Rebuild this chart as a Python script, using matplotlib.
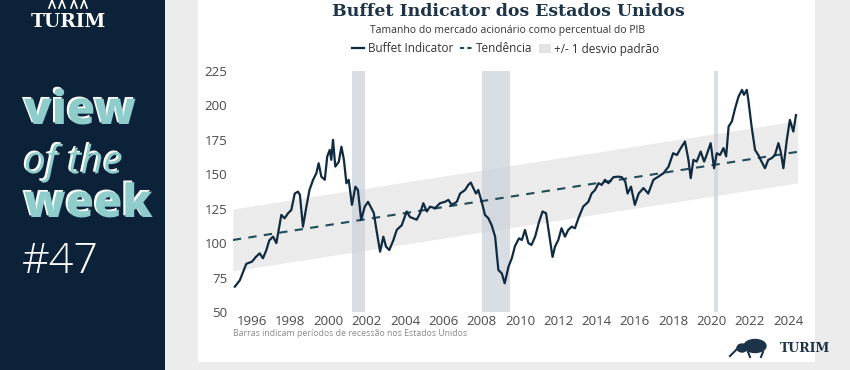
import matplotlib
matplotlib.use("Agg")
import matplotlib.pyplot as plt
import matplotlib.patheffects as pe
from matplotlib.patches import Rectangle, Ellipse
import numpy as np

# ---------------- data ----------------
years = [1995.1, 1995.36, 1995.7, 1996.0, 1996.2, 1996.4, 1996.57, 1996.75, 1996.9, 1997.1,
         1997.27, 1997.53, 1997.7, 1997.88, 1998.05, 1998.23, 1998.4, 1998.5, 1998.66, 1998.84,
         1999.0, 1999.19, 1999.36, 1999.48, 1999.62, 1999.8, 1999.93, 2000.06, 2000.14, 2000.23,
         2000.35, 2000.53, 2000.67, 2000.8, 2000.93, 2001.05, 2001.22, 2001.4, 2001.53, 2001.7,
         2001.89, 2002.06, 2002.23, 2002.36, 2002.5, 2002.69, 2002.86, 2003.0, 2003.17, 2003.38,
         2003.56, 2003.82, 2004.08, 2004.25, 2004.43, 2004.6, 2004.78, 2004.95, 2005.13, 2005.3,
         2005.56, 2005.82, 2006.08, 2006.26, 2006.43, 2006.7, 2006.87, 2007.13, 2007.3, 2007.43,
         2007.56, 2007.7, 2007.82, 2008.0, 2008.17, 2008.35, 2008.52, 2008.7, 2008.87, 2009.05,
         2009.2, 2009.4, 2009.57, 2009.74, 2009.95, 2010.1, 2010.26, 2010.44, 2010.6, 2010.79,
         2011.0, 2011.18, 2011.36, 2011.53, 2011.7, 2011.83, 2012.0, 2012.17, 2012.35, 2012.52,
         2012.7, 2012.87, 2013.05, 2013.3, 2013.57, 2013.74, 2013.92, 2014.1, 2014.27, 2014.44,
         2014.62, 2014.88, 2015.14, 2015.32, 2015.5, 2015.62, 2015.8, 2016.0, 2016.2, 2016.45,
         2016.7, 2016.97, 2017.23, 2017.5, 2017.76, 2018.0, 2018.2, 2018.4, 2018.62, 2018.8,
         2018.92, 2019.06, 2019.23, 2019.44, 2019.62, 2019.75, 2019.96, 2020.14, 2020.28, 2020.45,
         2020.63, 2020.77, 2020.9, 2021.07, 2021.24, 2021.42, 2021.6, 2021.7, 2021.85, 2021.93,
         2022.1, 2022.28, 2022.45, 2022.62, 2022.8, 2022.97, 2023.15, 2023.32, 2023.5, 2023.62,
         2023.76, 2023.94, 2024.1, 2024.28, 2024.42]
buffett = [68.4, 73, 85, 86.6, 90, 92.6, 89, 95, 102, 104.7,
           100, 120.5, 118, 121.7, 124, 136, 137.4, 135, 112, 126.5,
           138.6, 146, 150.8, 158, 148.3, 146, 163, 167.7, 160.5, 175,
           155.6, 159, 170, 160.5, 143.5, 146, 127.8, 141, 138.7, 116.9,
           126.5, 130, 125.4, 122, 109.6, 93.8, 104.7, 97.5, 95, 102,
           109.6, 113, 123, 119, 118, 117, 121.7, 129, 123, 126.5,
           125.4, 129, 130, 131.4, 127.8, 130, 136, 138.6, 142.3, 144,
           140, 136, 138.6, 130, 120.5, 118, 113, 104.7, 80.5, 78,
           70.8, 83, 89, 98, 103.5, 102.3, 109.6, 100, 98.7, 104.7,
           115.7, 123, 121.7, 106, 90, 97.5, 102.3, 110.8, 104.7, 109.6,
           112, 110.8, 118, 126.5, 130, 136, 138.6, 143.5, 142.3, 146,
           143.5, 147.9, 148.3, 147.9, 144.7, 136, 141, 127.8, 136, 140,
           136, 146, 148.3, 150.8, 155.6, 165.3, 164, 169, 173.8, 160.5,
           147.2, 160.5, 159.2, 166.5, 159.2, 164, 172.6, 154.4, 165.3, 164,
           169, 163, 184.7, 188.4, 198, 206.5, 211.3, 207.7, 211.3, 204,
           184.7, 167.7, 164, 159.2, 154.4, 160.5, 161.7, 164, 172.6, 166.5,
           154.4, 175, 189.5, 181, 193]
trend_years = [1995.0, 2024.5]
trend_vals = [102.3, 166.3]
band_sd = 22.5
recessions = [(2001.2, 2001.9), (2008.0, 2009.5), (2020.15, 2020.33)]
xticks = [1996, 1998, 2000, 2002, 2004, 2006, 2008, 2010, 2012, 2014, 2016, 2018, 2020, 2022, 2024]
yticks = [50, 75, 100, 125, 150, 175, 200, 225]

NAVY = "#0b2239"
LINE = "#102a40"
TEAL = "#8ecdcc"
W, H = 850, 370

fig = plt.figure(figsize=(8.5, 3.7), dpi=100)
fig.patch.set_facecolor("#ececec")

# background panels in an axes at the very back
bg = fig.add_axes([0, 0, 1, 1], zorder=-10)
bg.set_xlim(0, W)
bg.set_ylim(H, 0)
bg.axis("off")
bg.add_patch(Rectangle((0, 0), 165, 370, facecolor=NAVY, edgecolor="none"))
bg.add_patch(Rectangle((198, 0), 617, 362, facecolor="white", edgecolor="none"))

# left panel text
fig.text(68 / W, 1 - 22 / H, "TURIM", color="white", fontsize=13.5, fontweight="bold",
         family="DejaVu Serif", ha="center", va="center")
for xs in [52, 62, 74, 84]:
    bg.plot([xs - 3, xs, xs + 3], [8, 0, 8], color="white", lw=1.2)
shadow = [pe.withSimplePatchShadow(offset=(-1.5, 1.2), shadow_rgbFace="white", alpha=1)]
fig.text(24 / W, 1 - 112 / H, "view", color=TEAL, fontsize=33, fontweight=800,
         family="Open Sans", ha="left", va="center", path_effects=shadow)
fig.text(24 / W, 1 - 163 / H, "of the", color=TEAL, fontsize=28, style="italic",
         family="Open Sans", ha="left", va="center", path_effects=shadow)
fig.text(24 / W, 1 - 205 / H, "week", color=TEAL, fontsize=33, fontweight=800,
         family="Open Sans", ha="left", va="center", path_effects=shadow)
fig.text(22 / W, 1 - 262 / H, "#47", color="white", fontsize=31, fontweight=300,
         family="Open Sans", ha="left", va="center")

# titles
fig.text(508 / W, 1 - 12 / H, "Buffet Indicator dos Estados Unidos", color="#1d3347",
         fontsize=12.5, fontweight="bold", family="DejaVu Serif", ha="center", va="center")
fig.text(508 / W, 1 - 31 / H, "Tamanho do mercado acionário como percentual do PIB",
         color="#333333", fontsize=7.5, family="Open Sans", ha="center", va="center")

# axes
x0px = 232.9
pxyr = 19.14
xlim = (1995.0, 2024.6)
x1px = x0px + (xlim[1] - xlim[0]) * pxyr
ax = fig.add_axes([x0px / W, (H - 312) / H, (x1px - x0px) / W, (312 - 71) / H])
ax.set_facecolor("none")
ax.set_xlim(*xlim)
ax.set_ylim(50, 225)
for s in ax.spines.values():
    s.set_visible(False)

tx = np.array(trend_years)
tv = np.array(trend_vals)
ax.fill_between(tx, tv - band_sd, tv + band_sd, color="#ebebeb", lw=0, zorder=1)
for a, b in recessions:
    ax.axvspan(a, b, color="#c9cfd9", alpha=0.7, lw=0, zorder=2)
ax.plot(tx, tv, color="#1e4c57", lw=1.5, ls=(0, (4, 3.5)), zorder=3)
ax.plot(years, buffett, color=LINE, lw=1.6, zorder=4)

ax.set_xticks(xticks)
ax.set_yticks(yticks)
ax.tick_params(length=0, labelsize=9.5, labelcolor="#4a4a4a", pad=4)
ax.tick_params(axis="x", pad=2)
for lab in ax.get_xticklabels() + ax.get_yticklabels():
    lab.set_family("Open Sans")

# legend
handles = [plt.Line2D([], [], color=LINE, lw=1.6),
           plt.Line2D([], [], color="#1e4c57", lw=1.5, ls=(0, (2, 1.5))),
           Rectangle((0, 0), 1, 1, facecolor="#e3e3e3", edgecolor="none")]
leg = fig.legend(handles, ["Buffet Indicator", "Tendência", "+/- 1 desvio padrão"],
                 loc="center", bbox_to_anchor=(506 / W, 1 - 49 / H), ncol=3, frameon=False,
                 handlelength=1.0, handletextpad=0.3, columnspacing=0.6,
                 prop={"family": "Open Sans", "size": 8.5})
for t in leg.get_texts():
    t.set_color("#333333")

fig.text(233 / W, 1 - 333 / H, "Barras indicam períodos de recessão nos Estados Unidos",
         color="#8a8a8a", fontsize=6.3, family="Open Sans", ha="left", va="center")

# bottom-right logo
fig.text(780 / W, 1 - 348 / H, "TURIM", color="#1d3347", fontsize=9, fontweight="bold",
         family="DejaVu Serif", ha="left", va="center")
for (cx, cy, w, h) in [(755, 346, 22, 13), (742, 348, 10, 8)]:
    bg.add_patch(Ellipse((cx, cy), w, h, color="#1d3347"))
bg.plot([730, 737], [356, 349], color="#1d3347", lw=1.5)
bg.plot([750, 748], [357, 352], color="#1d3347", lw=1.5)
bg.plot([761, 763], [357, 352], color="#1d3347", lw=1.5)

fig.savefig("out.png", dpi=100, facecolor=fig.get_facecolor())
